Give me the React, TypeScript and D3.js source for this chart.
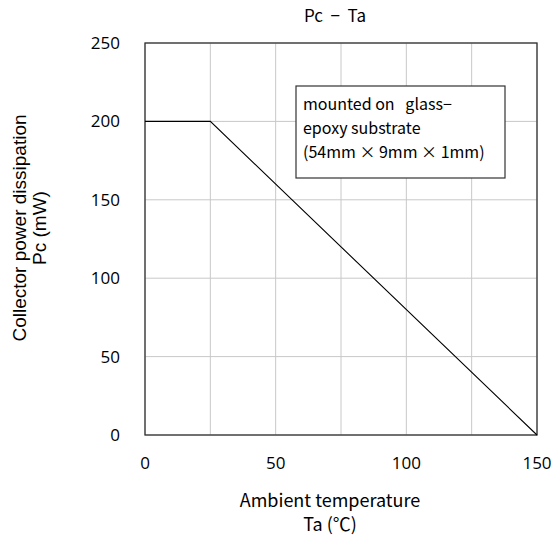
import React from "react";
import * as d3 from "d3";

// Derating curve: collector power dissipation vs ambient temperature
const temperature = [0, 25, 150];
const powerDissipation = [200, 200, 0];

const xTicks = [0, 50, 100, 150];
const xGrid = [0, 25, 50, 75, 100, 125, 150];
const yTicks = [0, 50, 100, 150, 200, 250];

const title = "Pc  −  Ta";
const xTitle = ["Ambient temperature", "Ta (℃)"];
const yTitle = ["Collector power dissipation", "Pc (mW)"];
const noteLines = ["mounted on   glass−", "epoxy substrate", "(54mm × 9mm × 1mm)"];

const W = 556;
const H = 540;
const M = { left: 145, right: 537, top: 43, bottom: 435 };

export default function App() {
  const x = d3.scaleLinear().domain([0, 150]).range([M.left, M.right]);
  const y = d3.scaleLinear().domain([0, 250]).range([M.bottom, M.top]);

  const pts: [number, number][] = temperature.map((t, i) => [t, powerDissipation[i]]);
  const line = d3
    .line<[number, number]>()
    .x((d) => x(d[0]))
    .y((d) => y(d[1]));

  const sans = "'Open Sans', 'Noto Sans', sans-serif";
  const arial = "'Liberation Sans', Arial, sans-serif";
  const jp = "'Noto Sans CJK JP', sans-serif";

  return (
    <svg
      width={W}
      height={H}
      style={{ position: "absolute", left: 0, top: 0, background: "#fff" }}
    >
      <text
        x={335}
        y={22}
        textAnchor="middle"
        fontFamily={jp}
        fontSize={17}
        fill="#000"
        style={{ whiteSpace: "pre" }}
      >
        {title}
      </text>

      {/* grid */}
      {xGrid.map((t) => (
        <line
          key={"gx" + t}
          x1={x(t)}
          x2={x(t)}
          y1={M.top}
          y2={M.bottom}
          stroke="#c8c8c8"
          strokeWidth={1}
        />
      ))}
      {yTicks.map((t) => (
        <line
          key={"gy" + t}
          x1={M.left}
          x2={M.right}
          y1={y(t)}
          y2={y(t)}
          stroke="#c8c8c8"
          strokeWidth={1}
        />
      ))}

      {/* frame */}
      <rect
        x={M.left}
        y={M.top}
        width={M.right - M.left}
        height={M.bottom - M.top}
        fill="none"
        stroke="#333"
        strokeWidth={1.3}
      />

      {/* annotation box */}
      <rect x={296} y={86} width={209} height={92} fill="#fff" stroke="#333" strokeWidth={1.2} />
      {noteLines.map((s, i) => (
        <text
          key={"n" + i}
          x={303}
          y={110 + i * 24}
          fontFamily={jp}
          fontSize={16}
          fill="#000"
          style={{ whiteSpace: "pre" }}
        >
          {s}
        </text>
      ))}

      {/* derating curve */}
      <path d={line(pts) ?? ""} fill="none" stroke="#000" strokeWidth={1.1} />

      {/* tick labels */}
      {xTicks.map((t) => (
        <text
          key={"xt" + t}
          x={x(t)}
          y={469}
          textAnchor="middle"
          fontFamily={sans}
          fontSize={17}
          fill="#000"
        >
          {t}
        </text>
      ))}
      {yTicks.map((t) => (
        <text
          key={"yt" + t}
          x={120}
          y={y(t) + 6}
          textAnchor="end"
          fontFamily={sans}
          fontSize={17}
          fill="#000"
        >
          {t}
        </text>
      ))}

      {/* axis titles */}
      {xTitle.map((s, i) => (
        <text
          key={"xT" + i}
          x={330}
          y={507 + i * 24}
          textAnchor="middle"
          fontFamily={jp}
          fontSize={18}
          fill="#000"
        >
          {s}
        </text>
      ))}
      <g transform="translate(0,228) rotate(-90)">
        {yTitle.map((s, i) => (
          <text
            key={"yT" + i}
            x={0}
            y={26 + i * 20}
            textAnchor="middle"
            fontFamily={arial}
            fontSize={19}
            fill="#000"
          >
            {s}
          </text>
        ))}
      </g>
    </svg>
  );
}
